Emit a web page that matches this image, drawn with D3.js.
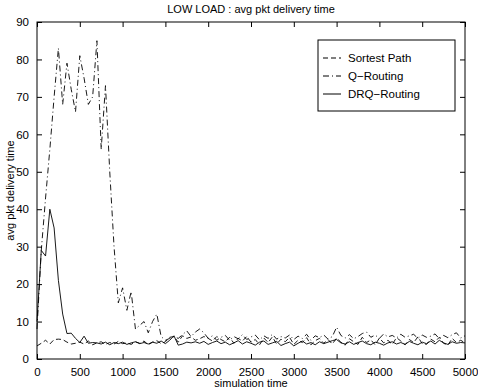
<!DOCTYPE html>
<html>
<head>
<meta charset="utf-8">
<script src="https://cdn.jsdelivr.net/npm/d3@7"></script>
<style>
  body { margin: 0; background: #fff; }
  text { font-family: "Liberation Sans", Arial, sans-serif; }
</style>
</head>
<body>
<svg id="canvas"></svg>
<script>
var w = 478;
var h = 390;

// simulation time, step 50
var times = d3.range(0, 5001, 50);

var shortestPath = [3.5, 4.2, 5, 4, 5.2, 5.3, 5.2, 4.5, 4.0, 4.2, 4.5, 4.0, 4.8, 3.8, 4.3, 4.6, 3.9, 4.4, 4.0, 4.7,
  4.1, 4.3, 3.9, 4.6, 4.2, 4.8, 3.8, 4.5, 4.9, 4.1, 4.6, 5.8, 6.0, 4.5, 6.2, 5.5, 5.9, 5.0, 5.4, 6.0,
  5.5, 4.8, 6.0, 5.2, 4.6, 5.8, 4.2, 5.5, 4.8, 6.0, 4.5, 5.2, 3.8, 5.6, 4.4, 5.9, 4.0, 5.3, 4.6, 5.8,
  3.9, 5.0, 4.4, 5.7, 3.8, 4.9, 5.5, 4.2, 5.2, 4.0, 5.6, 4.5, 3.7, 5.4, 4.6, 3.9, 5.8, 4.4, 5.1, 3.8,
  5.6, 4.3, 5.0, 3.9, 5.7, 4.8, 3.8, 5.2, 4.4, 5.9, 4.1, 3.9, 5.3, 4.6, 5.8, 4.2, 3.7, 5.5, 4.4, 5.0, 4.3];

var qRouting = [8, 29, 43, 56, 70, 83, 68, 79, 72, 66, 81, 75, 68, 70, 85, 56, 73, 50, 30, 15,
  19, 13, 18, 8, 9, 10, 7, 10, 12, 6, 5, 5.5, 6, 5.5, 6.5, 7.5, 6, 7.2, 8, 7,
  5.5, 6.2, 5, 5.8, 6.3, 5.0, 6.0, 5.4, 6.5, 5.2, 5.9, 6.4, 5.1, 6.2, 5.5, 6.6, 5.3, 6.0, 5.6, 6.4,
  5.2, 6.1, 5.5, 6.6, 5.0, 6.2, 5.7, 6.4, 5.3, 6.0, 8.5, 6.3, 5.6, 6.5, 5.4, 6.0, 6.8, 7.2, 5.8, 6.4,
  5.5, 6.7, 5.9, 6.3, 5.6, 6.6, 5.8, 6.2, 6.6, 5.5, 6.4, 5.8, 6.1, 6.7, 5.4, 6.3, 5.7, 6.5, 7.0, 5.6, 6.2];

var drqRouting = [10, 29, 27.5, 40, 35, 21, 12, 6.8, 6.9, 5.5, 4.4, 6.1, 4.2, 4.4, 4.3, 4.0, 4.5, 3.8, 4.4, 4.1,
  4.5, 3.9, 4.3, 4.6, 4.1, 4.4, 4.0, 4.5, 4.2, 4.8, 4.1, 5.0, 6.2, 3.7, 4.0, 4.5, 4.3, 4.6, 4.2, 4.7,
  3.9, 4.4, 4.8, 4.1, 4.5, 3.8, 4.3, 4.9, 4.0, 4.6, 4.2, 3.7, 4.5, 4.8, 3.9, 4.3, 4.7, 3.6, 4.1, 4.5,
  3.5, 4.2, 4.8, 4.0, 4.4, 3.8, 4.6, 4.1, 4.5, 4.9, 5.2, 4.3, 4.0, 4.6, 3.9, 4.4, 4.8, 4.1, 3.8, 4.5,
  4.2, 3.7, 4.3, 4.6, 4.0, 4.4, 3.9, 4.7, 4.2, 3.8, 4.5, 4.1, 4.8, 4.0, 5.0, 4.3, 3.9, 4.6, 4.2, 4.4, 4.3];

var seriesNames = ["Sortest Path", "Q\u2212Routing", "DRQ\u2212Routing"];
var seriesDash = ["5,3", "6,3,1,3", null];
var xTicks = d3.range(0, 5001, 500);
var yTicks = d3.range(0, 91, 10);

var margin = {left: 37, right: 13, top: 22, bottom: 31};
var pw = w - margin.left - margin.right;
var ph = h - margin.top - margin.bottom;

var svg = d3.select("#canvas")
  .attr("width", w)
  .attr("height", h);

var x = d3.scaleLinear().domain([0, 5000]).range([margin.left, margin.left + pw]);
var y = d3.scaleLinear().domain([0, 90]).range([margin.top + ph, margin.top]);

// lines
var line = d3.line()
  .x(function (d, i) { return x(times[i]); })
  .y(function (d) { return y(d); });

var allSeries = [shortestPath, qRouting, drqRouting];
allSeries.forEach(function (s, i) {
  svg.append("path")
    .datum(s)
    .attr("d", line)
    .attr("fill", "none")
    .attr("stroke", "#000")
    .attr("stroke-width", 0.9)
    .attr("stroke-dasharray", seriesDash[i]);
});

// axes, ticks pointing inward on all sides
function styleAxis(g) {
  g.select(".domain").remove();
  g.selectAll("line").attr("stroke", "#000");
  g.selectAll("text").attr("fill", "#000").style("font-size", "11.5px");
}
svg.append("g")
  .attr("transform", "translate(0," + (margin.top + ph) + ")")
  .call(d3.axisBottom(x).tickValues(xTicks).tickSizeInner(-5).tickSizeOuter(0).tickPadding(9).tickFormat(d3.format("d")))
  .call(styleAxis);
svg.append("g")
  .attr("transform", "translate(0," + margin.top + ")")
  .call(d3.axisTop(x).tickValues(xTicks).tickSizeInner(-5).tickSizeOuter(0).tickFormat(""))
  .call(styleAxis);
svg.append("g")
  .attr("transform", "translate(" + margin.left + ",0)")
  .call(d3.axisLeft(y).tickValues(yTicks).tickSizeInner(-5).tickSizeOuter(0).tickPadding(8))
  .call(styleAxis);
svg.append("g")
  .attr("transform", "translate(" + (margin.left + pw) + ",0)")
  .call(d3.axisRight(y).tickValues(yTicks).tickSizeInner(-5).tickSizeOuter(0).tickFormat(""))
  .call(styleAxis);

svg.append("rect")
  .attr("x", margin.left).attr("y", margin.top)
  .attr("width", pw).attr("height", ph)
  .attr("fill", "none").attr("stroke", "#000").attr("stroke-width", 1);

// titles
svg.append("text")
  .attr("x", margin.left + pw / 2).attr("y", 13)
  .attr("text-anchor", "middle").style("font-size", "11px")
  .text("LOW LOAD : avg pkt delivery time");
svg.append("text")
  .attr("x", margin.left + pw / 2).attr("y", 387)
  .attr("text-anchor", "middle").style("font-size", "11px")
  .text("simulation time");
svg.append("text")
  .attr("transform", "translate(14," + (margin.top + ph / 2) + ") rotate(-90)")
  .attr("text-anchor", "middle").style("font-size", "11px")
  .text("avg pkt delivery time");

// legend
var lg = svg.append("g").attr("transform", "translate(318,40)");
lg.append("rect")
  .attr("width", 137).attr("height", 71)
  .attr("fill", "#fff").attr("stroke", "#000").attr("stroke-width", 1);
seriesNames.forEach(function (name, i) {
  var yy = 18 + i * 18;
  lg.append("line")
    .attr("x1", 5).attr("x2", 23).attr("y1", yy).attr("y2", yy)
    .attr("stroke", "#000").attr("stroke-width", 1)
    .attr("stroke-dasharray", seriesDash[i]);
  lg.append("text")
    .attr("x", 30).attr("y", yy + 4)
    .style("font-size", "11.5px")
    .text(name);
});
</script>
</body>
</html>
